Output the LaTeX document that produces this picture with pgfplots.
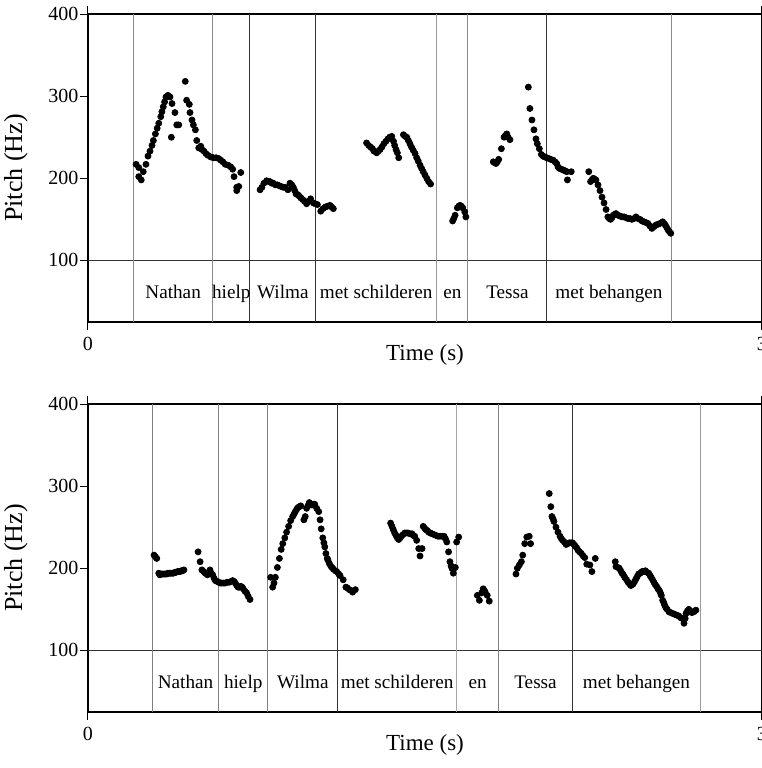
\documentclass[border=0pt]{standalone}
\usepackage{pgfplots}
\pgfplotsset{compat=1.18}
\usepackage{fontspec}
\setmainfont{Liberation Serif}
\pgfplotsset{pp/.style={scale only axis, width=337pt, height=154pt,
  xmin=0, xmax=3, ymin=25, ymax=400, xtick={0,3}, ytick={100,200,300,400},
  tick align=outside, major tick length=4pt, tick style={black, line width=0.5pt},
  axis line style={line width=0.6pt},
  /pgf/number format/assume math mode=true,
  tick label style={font=\fontsize{10}{12}\selectfont},
  yticklabel style={inner sep=0.6pt},
  xlabel={Time (s)}, ylabel={Pitch (Hz)},
  ylabel style={at={(axis description cs:-0.107,0.5)}, anchor=center, font=\fontsize{13}{15}\selectfont},
  xlabel style={at={(axis description cs:0.5,0)}, yshift=-16.5pt, anchor=center, font=\fontsize{11.5}{13}\selectfont},
  clip=false}}
\begin{document}
\begin{tikzpicture}
% ---------- top panel ----------
\begin{axis}[pp, at={(44pt,-161pt)}, anchor=south west]
\draw[black!80, line width=0.5pt] (axis cs:0,100) -- (axis cs:3,100);
\foreach \x/\c in {0.203/45,0.555/45,0.721/80,1.013/80,1.552/40,1.691/45,2.043/80,2.595/45}{
  \edef\tmp{\noexpand\draw[black!\c, line width=0.5pt] (axis cs:\x,25) -- (axis cs:\x,400);}\tmp}
\foreach \x/\w in {0.379/Nathan,0.638/hielp,0.867/Wilma,1.283/met schilderen,1.622/en,1.867/Tessa,2.319/met behangen}{
  \edef\tmp{\noexpand\node[anchor=base, font=\noexpand\fontsize{9.6}{11}\noexpand\selectfont] at (axis cs:\x,54) {\w};}\tmp}
\addplot[only marks, mark=*, mark size=1.5pt, black] table {
0.214 217
0.226 213
0.226 202
0.237 198
0.246 208
0.258 217
0.267 227
0.276 233
0.285 240
0.291 246
0.300 254
0.308 261
0.315 267
0.324 275
0.329 281
0.335 287
0.341 293
0.347 299
0.356 301
0.365 299
0.374 291
0.371 250
0.387 280
0.395 265
0.404 265
0.433 318
0.439 295
0.451 290
0.454 280
0.463 271
0.469 265
0.478 259
0.484 246
0.493 237
0.502 239
0.507 235
0.516 233
0.525 230
0.534 228
0.546 226
0.558 225
0.570 225
0.582 224
0.591 222
0.600 220
0.611 217
0.623 216
0.635 214
0.644 211
0.650 202
0.662 189
0.671 190
0.662 185
0.680 207
0.766 186
0.774 189
0.783 194
0.795 197
0.803 196
0.810 196
0.818 194
0.825 194
0.834 192
0.843 192
0.851 191
0.860 190
0.869 189
0.878 189
0.890 186
0.899 194
0.907 192
0.914 189
0.920 185
0.926 181
0.934 180
0.941 178
0.948 176
0.956 174
0.964 172
0.973 169
0.982 172
0.991 175
1.003 170
1.012 169
1.021 168
1.036 160
1.046 163
1.056 165
1.066 166
1.077 167
1.085 165
1.092 163
1.240 243
1.249 240
1.258 238
1.266 236
1.273 233
1.285 231
1.292 233
1.300 235
1.308 238
1.317 242
1.326 245
1.335 248
1.343 250
1.352 251
1.360 245
1.365 240
1.371 235
1.377 231
1.383 225
1.404 253
1.412 251
1.419 250
1.426 246
1.433 242
1.440 238
1.448 234
1.456 230
1.463 225
1.470 221
1.478 216
1.485 212
1.492 208
1.500 204
1.508 200
1.516 196
1.525 193
1.623 148
1.628 151
1.634 155
1.644 164
1.650 166
1.656 167
1.662 166
1.668 164
1.677 159
1.682 153
1.804 220
1.810 219
1.816 218
1.822 220
1.828 223
1.840 236
1.852 250
1.858 252
1.864 254
1.870 250
1.878 247
1.960 311
1.967 285
1.976 271
1.985 259
1.994 248
2.000 242
2.009 236
2.018 229
2.025 227
2.033 226
2.042 225
2.051 224
2.060 223
2.071 222
2.079 220
2.086 218
2.092 214
2.098 212
2.107 211
2.116 210
2.124 209
2.131 208
2.134 198
2.151 208
2.229 208
2.237 196
2.243 198
2.249 200
2.255 199
2.261 198
2.270 192
2.279 185
2.288 177
2.297 170
2.306 162
2.314 153
2.320 151
2.326 150
2.332 152
2.338 155
2.344 156
2.350 157
2.359 155
2.368 154
2.377 153
2.386 153
2.395 152
2.403 151
2.412 151
2.421 150
2.430 151
2.439 153
2.448 151
2.457 150
2.466 148
2.475 147
2.484 146
2.492 145
2.501 142
2.510 139
2.519 141
2.528 143
2.537 144
2.546 145
2.558 147
2.564 145
2.570 143
2.576 140
2.582 137
2.588 135
2.594 133
};
\end{axis}
% ---------- bottom panel ----------
\begin{axis}[pp, at={(44pt,-356pt)}, anchor=south west]
\draw[black!80, line width=0.5pt] (axis cs:0,100) -- (axis cs:3,100);
\foreach \x/\c in {0.286/50,0.581/50,0.800/50,1.112/80,1.639/35,1.829/50,2.155/80,2.727/40}{
  \edef\tmp{\noexpand\draw[black!\c, line width=0.5pt] (axis cs:\x,25) -- (axis cs:\x,400);}\tmp}
\foreach \x/\w in {0.434/Nathan,0.691/hielp,0.956/Wilma,1.376/met schilderen,1.734/en,1.992/Tessa,2.441/met behangen}{
  \edef\tmp{\noexpand\node[anchor=base, font=\noexpand\fontsize{9.6}{11}\noexpand\selectfont] at (axis cs:\x,54) {\w};}\tmp}
\addplot[only marks, mark=*, mark size=1.5pt, black] table {
0.294 216
0.300 214
0.306 212
0.315 194
0.320 192
0.326 193
0.332 193
0.338 193
0.344 193
0.350 193
0.356 194
0.362 194
0.368 194
0.374 194
0.380 194
0.386 195
0.392 195
0.398 196
0.404 196
0.410 196
0.415 197
0.421 197
0.427 198
0.490 220
0.499 208
0.507 198
0.515 196
0.522 194
0.531 192
0.543 198
0.549 194
0.555 192
0.561 188
0.567 185
0.575 184
0.582 183
0.589 182
0.596 182
0.604 182
0.611 182
0.620 183
0.629 183
0.637 184
0.644 185
0.650 184
0.656 182
0.662 179
0.668 177
0.674 177
0.680 178
0.686 177
0.691 175
0.699 172
0.706 170
0.713 166
0.721 162
0.813 189
0.822 177
0.828 182
0.834 189
0.843 201
0.852 212
0.860 223
0.867 230
0.876 237
0.884 244
0.893 251
0.902 258
0.911 263
0.917 266
0.923 269
0.929 272
0.935 274
0.941 275
0.947 276
0.961 259
0.967 263
0.973 273
0.979 276
0.985 280
0.991 278
0.997 277
1.003 278
1.009 278
1.018 273
1.027 269
1.033 259
1.038 248
1.045 237
1.050 231
1.054 226
1.059 218
1.065 212
1.068 210
1.074 206
1.080 203
1.086 201
1.092 199
1.101 197
1.107 196
1.116 193
1.122 191
1.136 186
1.148 177
1.155 176
1.163 174
1.170 173
1.178 171
1.190 174
1.347 255
1.353 251
1.359 247
1.365 243
1.371 240
1.377 237
1.383 235
1.389 237
1.395 239
1.402 241
1.410 243
1.417 243
1.424 243
1.433 242
1.442 242
1.448 240
1.454 239
1.463 234
1.472 224
1.478 215
1.487 224
1.492 251
1.498 249
1.504 247
1.510 246
1.516 244
1.524 243
1.531 242
1.540 241
1.549 240
1.558 239
1.567 239
1.576 239
1.585 239
1.591 236
1.597 232
1.605 220
1.611 208
1.616 203
1.620 200
1.626 194
1.635 201
1.641 232
1.650 238
1.733 167
1.742 161
1.752 170
1.759 175
1.764 173
1.768 171
1.777 167
1.786 160
1.905 193
1.911 200
1.920 204
1.929 208
1.935 216
1.944 230
1.953 238
1.964 239
1.970 230
2.053 291
2.060 275
2.065 263
2.070 260
2.074 257
2.083 250
2.092 244
2.101 239
2.107 236
2.113 234
2.120 232
2.128 229
2.135 230
2.142 231
2.150 231
2.157 231
2.163 229
2.169 227
2.175 225
2.181 222
2.188 220
2.196 218
2.204 215
2.211 213
2.220 205
2.234 204
2.243 196
2.258 212
2.347 208
2.350 202
2.358 201
2.365 200
2.371 197
2.377 194
2.383 192
2.389 189
2.397 186
2.404 183
2.410 181
2.416 179
2.422 180
2.427 181
2.433 184
2.439 187
2.445 190
2.451 193
2.458 194
2.466 196
2.474 196
2.481 197
2.489 195
2.496 194
2.502 191
2.507 189
2.513 186
2.519 183
2.525 180
2.531 178
2.537 175
2.543 173
2.548 170
2.552 167
2.558 161
2.563 158
2.567 155
2.572 152
2.578 150
2.586 147
2.594 146
2.602 145
2.611 144
2.620 143
2.629 142
2.637 140
2.644 139
2.653 133
2.658 139
2.662 145
2.668 148
2.674 150
2.681 148
2.688 146
2.697 147
2.706 149
};
\end{axis}
\pgfresetboundingbox
\path[use as bounding box] (0,0) rectangle (381pt,-384pt);
\end{tikzpicture}
\end{document}
